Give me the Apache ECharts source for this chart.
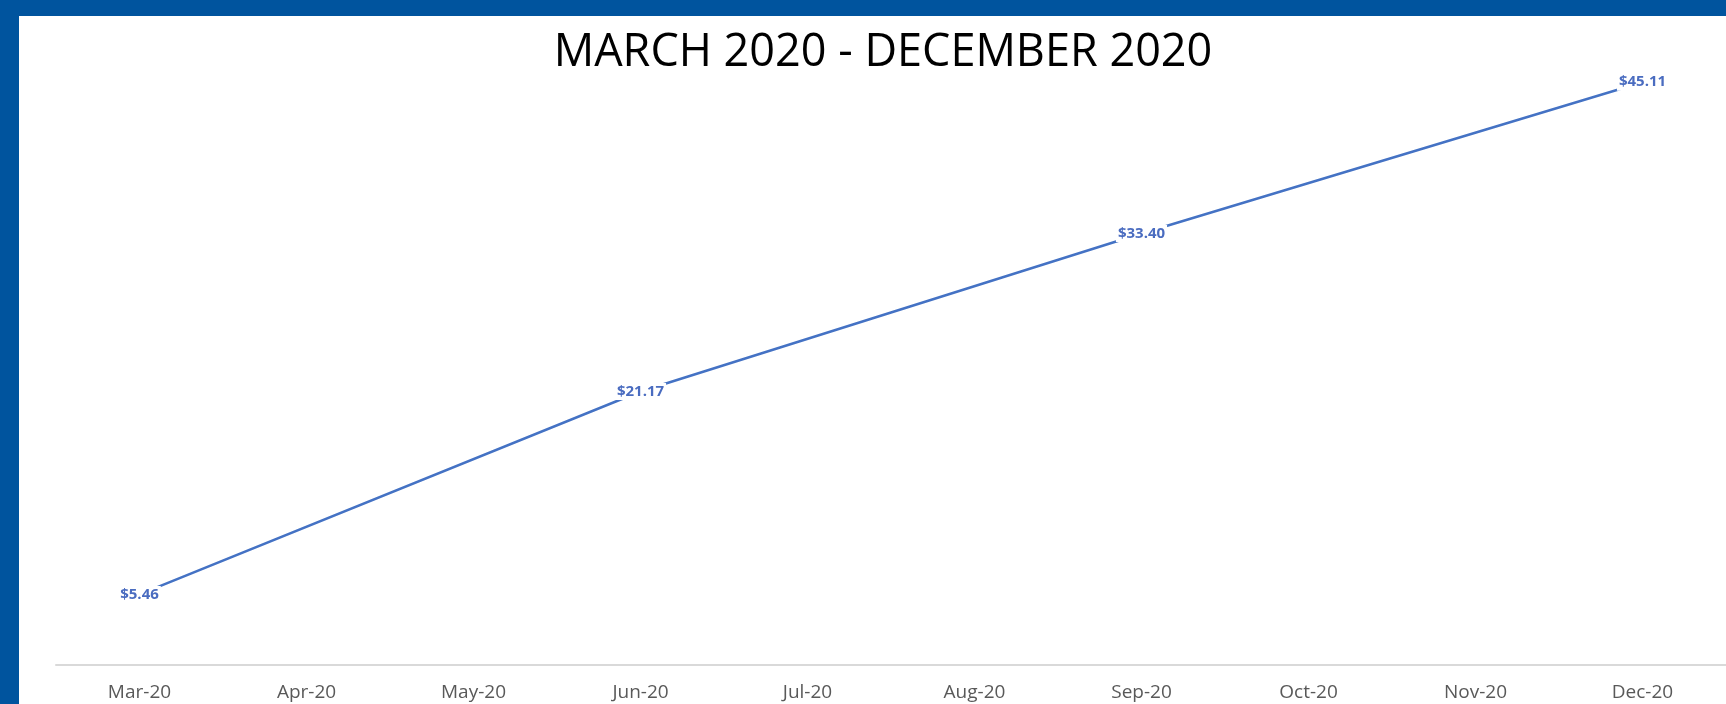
<!DOCTYPE html>
<html>
<head>
<meta charset="utf-8">
<script src="https://cdn.jsdelivr.net/npm/echarts@6/dist/echarts.min.js"></script>
<style>
  html, body { margin: 0; padding: 0; width: 1726px; height: 704px; overflow: hidden; background: #00549e; }
  #chart { position: absolute; left: 19px; top: 16px; width: 1707px; height: 688px; background: #ffffff; }
</style>
</head>
<body>
<div id="chart"></div>
<script>
const titleText = 'MARCH 2020 - DECEMBER 2020';
const categories = ['Mar-20','Apr-20','May-20','Jun-20','Jul-20','Aug-20','Sep-20','Oct-20','Nov-20','Dec-20'];
const values = [5.46, null, null, 21.17, null, null, 33.40, null, null, 45.11];
const yMin = 0;
const yMax = 50;

const chart = echarts.init(document.getElementById('chart'), null, { renderer: 'canvas' });
chart.setOption({
  animation: false,
  backgroundColor: '#ffffff',
  graphic: [{
    type: 'text',
    x: 864, y: 37,
    style: {
      text: titleText,
      fontFamily: 'Open Sans',
      fontSize: 45,
      fill: '#000000',
      textAlign: 'center',
      textVerticalAlign: 'middle'
    }
  }],
  grid: { left: 37, top: 3, bottom: 39, width: 1673 },
  xAxis: {
    type: 'category',
    data: categories,
    boundaryGap: true,
    axisLine: { show: true, lineStyle: { color: '#d9d9d9', width: 2 } },
    axisTick: { show: false },
    axisLabel: { color: '#595959', fontFamily: 'Open Sans', fontSize: 19, margin: 18, interval: 0 },
    splitLine: { show: false }
  },
  yAxis: {
    type: 'value',
    min: yMin,
    max: yMax,
    show: false,
    splitLine: { show: false }
  },
  series: [{
    type: 'line',
    data: values,
    connectNulls: true,
    symbol: 'circle',
    symbolSize: 2,
    lineStyle: { color: '#4472c4', width: 2.5 },
    itemStyle: { color: '#4472c4' },
    label: {
      show: true,
      position: 'inside',
      formatter: p => '$' + Number(p.value).toFixed(2),
      color: '#4a6cc0',
      fontFamily: 'Open Sans',
      fontWeight: 'bold',
      fontSize: 15,
      backgroundColor: '#ffffff',
      padding: [1, 2]
    }
  }]
});
</script>
</body>
</html>
